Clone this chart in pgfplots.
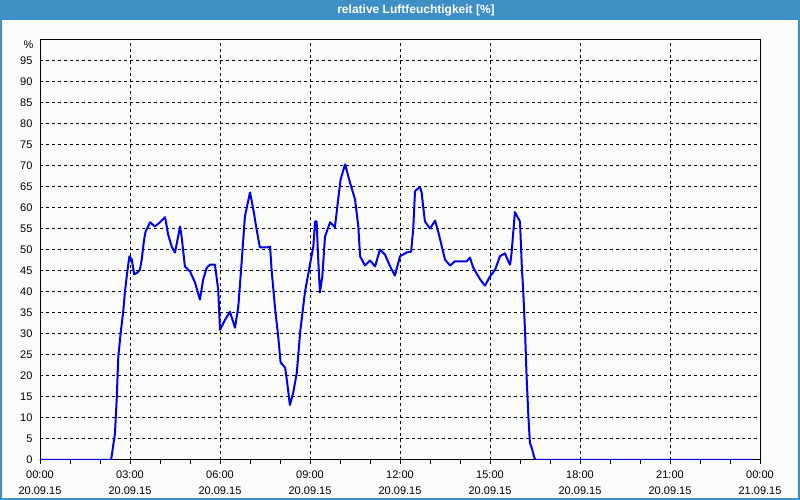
\documentclass[border=0pt]{standalone}
\usepackage{pgfplots}
\pgfplotsset{compat=1.18}
\usepackage{fontspec}
\setmainfont{Liberation Sans}
\definecolor{barblue}{RGB}{61,143,198}
\definecolor{bgc}{RGB}{250,252,250}
\definecolor{lineblue}{RGB}{0,0,235}
\begin{document}
\begin{tikzpicture}[x=1pt,y=1pt]
\useasboundingbox (0,0) rectangle (800,500);
\fill[bgc] (0,0) rectangle (800,500);
\fill[barblue] (0,480) rectangle (800,500);
\draw[barblue,line width=2pt] (1,1) rectangle (799,499);
\node[text=white,font=\fontsize{12}{14}\selectfont\bfseries] at (416,490) {relative Luftfeuchtigkeit [\%]};
\node[anchor=east,font=\fontsize{11}{13}\selectfont] at (37,455) {\%};
\begin{axis}[
  at={(40pt,40pt)}, anchor=south west,
  width=720pt, height=420pt, scale only axis,
  xmin=0, xmax=24, ymin=0, ymax=100,
  xtick={0,3,...,24},
  minor xtick={0,1,...,24},
  ytick={0,5,...,95},
  xticklabels={{00:00\\20.09.15},{03:00\\20.09.15},{06:00\\20.09.15},{09:00\\20.09.15},{12:00\\20.09.15},{15:00\\20.09.15},{18:00\\20.09.15},{21:00\\20.09.15},{00:00\\21.09.15}},
  xticklabel style={align=center,font=\fontsize{11}{16}\selectfont,yshift=-3pt},
  yticklabel style={font=\fontsize{11}{13}\selectfont},
  /pgf/number format/assume math mode=true,
  xmajorgrids, ymajorgrids,
  major grid style={black, line width=1pt, dash pattern=on 3pt off 3pt},
  axis line style={black, line width=1pt},
  tick align=outside,
  xtick pos=left,
  ytick style={draw=none},
  xtick style={black, line width=1pt},
  major tick length=4pt, minor tick length=4pt,
]
\addplot[lineblue, line width=2pt, line join=round] coordinates {
(0,0) (2.37,0) (2.5,6.4) (2.56,15.0) (2.61,24.6) (2.69,30.3) (2.78,35.8) (2.83,39.9) (2.89,43.7) (2.98,48.5)
(3.06,47.7) (3.14,44.2) (3.24,44.6) (3.33,45.3) (3.39,47.7) (3.47,52.5) (3.52,54.4) (3.67,56.6) (3.83,55.6) (4.0,56.6)
(4.17,57.8) (4.27,53.7) (4.39,50.8) (4.5,49.4) (4.67,55.6) (4.72,53.2) (4.83,46.1) (5.0,44.9) (5.17,42.2) (5.33,38.2)
(5.44,43.0) (5.56,45.8) (5.67,46.5) (5.83,46.5) (5.94,40.6) (6.0,31.0) (6.17,33.4) (6.33,35.3) (6.5,31.5) (6.61,36.5)
(6.72,47.0) (6.83,58.0) (7.0,63.7) (7.11,59.7) (7.22,54.9) (7.33,50.6) (7.56,50.6) (7.67,50.8) (7.72,45.3) (7.83,36.5)
(7.94,29.4) (8.02,23.2) (8.17,22.0) (8.24,18.4) (8.33,13.1) (8.44,16.0) (8.56,20.8) (8.67,30.3) (8.83,39.9) (8.98,45.8)
(9.11,50.8) (9.17,56.8) (9.22,56.8) (9.28,47.0) (9.33,39.9) (9.41,43.7) (9.5,53.2) (9.67,56.6) (9.83,55.4) (9.94,62.1)
(10.02,66.8) (10.17,70.4) (10.33,66.1) (10.5,62.1) (10.61,55.6) (10.67,48.5) (10.83,46.3) (11.0,47.5) (11.17,46.1) (11.33,50.1)
(11.5,48.9) (11.67,46.1) (11.83,43.9) (12.0,48.5) (12.22,49.4) (12.37,49.6) (12.44,54.9) (12.5,64.0) (12.61,64.7) (12.67,64.9)
(12.72,63.7) (12.83,56.8) (13.0,55.1) (13.17,57.0) (13.28,54.2) (13.5,47.7) (13.67,46.3) (13.83,47.3) (14.22,47.3) (14.33,48.2)
(14.44,45.8) (14.67,43.0) (14.83,41.5) (15.0,43.7) (15.17,45.3) (15.33,48.5) (15.5,49.2) (15.61,47.3) (15.67,46.5) (15.72,49.4)
(15.83,59.0) (16.0,56.8) (16.06,46.1) (16.11,39.9) (16.17,30.3) (16.22,19.8) (16.28,10.3) (16.33,4.1) (16.39,2.9) (16.48,0.5)
(16.53,0) (23.83,0)
};
\end{axis}
\end{tikzpicture}
\end{document}
